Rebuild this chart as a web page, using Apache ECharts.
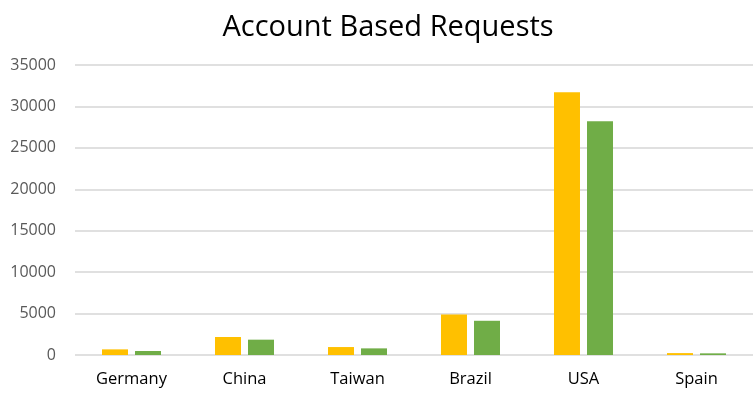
<!DOCTYPE html>
<html>
<head>
<meta charset="utf-8">
<script src="https://cdn.jsdelivr.net/npm/echarts@6/dist/echarts.min.js"></script>
<style>
  html, body { margin: 0; padding: 0; background: #fff; }
  #chart { width: 754px; height: 409px; }
</style>
</head>
<body>
<div id="chart"></div>
<script>
// data
var countries = ['Germany', 'China', 'Taiwan', 'Brazil', 'USA', 'Spain']
var seriesA = [680, 2170, 960, 4900, 31710, 230]
var seriesB = [480, 1850, 800, 4130, 28220, 200]
var yTicks = [0, 5000, 10000, 15000, 20000, 25000, 30000, 35000]

var chart = echarts.init(document.getElementById('chart'))

var option = {
  animation: false,
  title: {
    text: 'Account Based Requests',
    left: 383,
    textAlign: 'center',
    top: 8,
    textStyle: {
      fontFamily: 'Open Sans',
      fontWeight: 'normal',
      fontSize: 29,
      color: '#000'
    }
  },
  grid: { left: 75, right: 1, top: 65, bottom: 54 },
  xAxis: {
    type: 'category',
    data: countries,
    axisLine: { show: false },
    axisTick: { show: false },
    axisLabel: {
      margin: 16,
      fontFamily: 'Open Sans',
      fontSize: 16.5,
      color: '#000'
    }
  },
  yAxis: {
    type: 'value',
    min: yTicks[0],
    max: yTicks[yTicks.length - 1],
    interval: 5000,
    axisLine: { show: false },
    axisTick: { show: false },
    axisLabel: {
      margin: 19,
      fontFamily: 'Open Sans',
      fontSize: 16,
      color: '#595959',
      formatter: function (v) { return String(v) }
    },
    splitLine: { lineStyle: { color: '#e0e0e0', width: 2 } }
  },
  series: [
    {
      name: 'A',
      type: 'bar',
      data: seriesA,
      barWidth: 26,
      barGap: '27%',
      itemStyle: { color: '#FFC000' }
    },
    {
      name: 'B',
      type: 'bar',
      data: seriesB,
      barWidth: 26,
      barGap: '27%',
      itemStyle: { color: '#70AD47' }
    }
  ]
}

chart.setOption(option)
</script>
</body>
</html>
